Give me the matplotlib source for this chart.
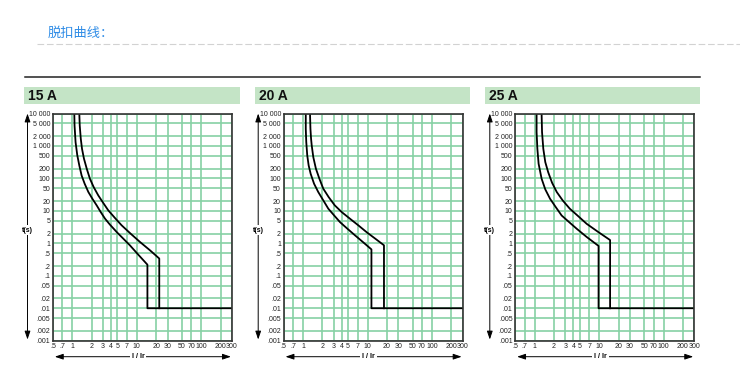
import matplotlib
matplotlib.use("Agg")
import matplotlib.pyplot as plt
from matplotlib.patches import Rectangle
from matplotlib.lines import Line2D

plt.rcParams['font.family'] = ['Liberation Sans', 'DejaVu Sans']

# ---------------- data ----------------
title_text = "脱扣曲线："
panel_labels = ["15 A", "20 A", "25 A"]

x_ticks = [0.5, 0.7, 1, 2, 3, 4, 5, 7, 10, 20, 30, 50, 70, 100, 200, 300]
x_tick_labels = [".5", ".7", "1", "2", "3", "4", "5", "7", "10", "20", "30",
                 "50", "70", "100", "200", "300"]
y_ticks = [10000, 5000, 2000, 1000, 500, 200, 100, 50, 20, 10, 5, 2, 1,
           0.5, 0.2, 0.1, 0.05, 0.02, 0.01, 0.005, 0.002, 0.001]
y_tick_labels = ["10 000", "5 000", "2 000", "1 000", "500", "200", "100", "50",
                 "20", "10", "5", "2", "1", ".5", ".2", ".1", ".05", ".02",
                 ".01", ".005", ".002", ".001"]

instant_t = 0.01
x_max = 300

# 15 A
i15_low = [1.07, 1.08, 1.12, 1.19, 1.28, 1.39, 1.55, 1.77, 2.04, 2.38, 2.75,
           3.21, 3.83, 4.9, 6.17, 7.8, 10.5, 14.6]
t15_low = [10000, 4240, 1310, 520, 251, 123, 68.6, 38, 23.7, 14.8, 9.2,
           5.75, 3.76, 2.2, 1.39, 0.87, 0.45, 0.22]
i15_high = [1.28, 1.30, 1.35, 1.41, 1.51, 1.67, 1.87, 2.14, 2.52, 3.02, 3.6,
            4.59, 5.8, 8.0, 11.2, 16.0, 22.3]
t15_high = [10000, 4240, 1660, 819, 410, 199, 98, 54, 30, 17.4, 10.4,
            6.0, 3.6, 1.99, 1.1, 0.61, 0.34]
# 20 A
i20_low = [1.10, 1.10, 1.12, 1.16, 1.22, 1.31, 1.48, 1.72, 2.06, 2.46, 3.02,
           3.74, 4.86, 6.4, 8.6, 11.5]
t20_low = [10000, 3380, 1310, 510, 251, 139, 68.6, 38, 21, 11.7, 7.3,
           4.5, 2.83, 1.76, 1.07, 0.65]
i20_high = [1.28, 1.30, 1.33, 1.36, 1.44, 1.58, 1.79, 2.06, 2.49, 3.1, 3.97,
            5.3, 7.2, 9.7, 13.2, 18.0]
t20_high = [10000, 3380, 1660, 1050, 453, 200, 98, 48, 26.7, 14.8, 9.2,
            5.8, 3.58, 2.2, 1.39, 0.87]
# 25 A
i25_low = [1.07, 1.07, 1.10, 1.15, 1.28, 1.46, 1.73, 2.12, 2.62, 3.41, 4.5,
           6.41, 9.8]
t25_low = [10000, 2670, 820, 283, 98, 45.9, 23.7, 13.1, 7.2, 4.53, 2.8,
           1.57, 0.83]
i25_high = [1.28, 1.30, 1.36, 1.46, 1.62, 1.86, 2.20, 2.72, 3.5, 4.76, 6.4,
            9.7, 14.8]
t25_high = [10000, 2670, 820, 318, 155, 73.6, 38, 21, 11.7, 6.8, 4.0,
            2.23, 1.26]

curves = [
    (i15_low, t15_low, i15_high, t15_high),
    (i20_low, t20_low, i20_high, t20_high),
    (i25_low, t25_low, i25_high, t25_high),
]

# ---------------- layout ----------------
W, H = 740, 369
fig = plt.figure(figsize=(W / 100, H / 100), dpi=100)


def fx(px):
    return px / W


def fy(py):
    return 1 - py / H


fig.text(fx(48), fy(33), title_text, color='#2f8ce6', fontsize=9.5,
         family=['Noto Sans CJK SC', 'DejaVu Sans'], va='center', ha='left')
fig.add_artist(Line2D([fx(37), fx(740)], [fy(44), fy(44)], color='#d2d2d2',
                      lw=0.8, ls=(0, (6, 2.5))))
fig.add_artist(Line2D([fx(25), fx(700)], [fy(77), fy(77)], color='#222222', lw=1.1))

bars = [(24, 240), (255, 470), (485, 700)]
ax_lefts = [53, 283.7, 515.3]
ax_top, ax_bot, ax_w = 113.5, 340.7, 179

for k in range(3):
    x0, x1 = bars[k]
    fig.add_artist(Rectangle((fx(x0), fy(104)), (x1 - x0) / W, 17 / H,
                             transform=fig.transFigure, facecolor='#c4e4c6',
                             edgecolor='none'))
    fig.text(fx(x0 + 4), fy(96), panel_labels[k], fontsize=10, fontweight='bold',
             va='center', ha='left', color='#111111')

    ax = fig.add_axes([fx(ax_lefts[k]), fy(ax_bot), ax_w / W, (ax_bot - ax_top) / H])
    ax.set_xscale('log')
    ax.set_yscale('log')
    ax.set_xlim(0.5, 300)
    ax.set_ylim(0.001, 10000)
    ax.minorticks_off()
    ax.set_xticks(x_ticks)
    ax.set_xticklabels(x_tick_labels)
    ax.set_yticks(y_ticks)
    ax.set_yticklabels(y_tick_labels)
    ax.minorticks_off()
    ax.tick_params(length=0, pad=2, labelsize=5, colors='#222222')
    ax.grid(True, which='major', color='#86d1a4', lw=1.2)
    ax.set_axisbelow(True)
    for s in ax.spines.values():
        s.set_color('#333333')
        s.set_linewidth(1.2)

    il, tl, ih, th = curves[k]
    ax.plot(list(il) + [il[-1], x_max], list(tl) + [instant_t, instant_t],
            color='black', lw=1.3)
    ax.plot(list(ih) + [ih[-1]], list(th) + [instant_t], color='black', lw=1.3)

    # axis arrows
    xa = -25.5 / ax_w
    ax.annotate('', xy=(xa, 1.0), xytext=(xa, 0.005), xycoords='axes fraction',
                textcoords='axes fraction', annotation_clip=False,
                arrowprops=dict(arrowstyle='<|-|>,head_length=0.5,head_width=0.17',
                                color='black', lw=0.7, shrinkA=0, shrinkB=0))
    ax.text(xa, 0.486, 't(s)', transform=ax.transAxes, ha='center', va='center',
            fontsize=5, fontweight='bold',
            bbox=dict(facecolor='white', edgecolor='none', pad=1.2))
    ya = -16 / (ax_bot - ax_top)
    ax.annotate('', xy=(0.994, ya), xytext=(0.01, ya), xycoords='axes fraction',
                textcoords='axes fraction', annotation_clip=False,
                arrowprops=dict(arrowstyle='<|-|>,head_length=0.5,head_width=0.17',
                                color='black', lw=0.7, shrinkA=0, shrinkB=0))
    ax.text(0.475, ya, 'I / Ir', transform=ax.transAxes, ha='center', va='center',
            fontsize=5, fontweight='bold',
            bbox=dict(facecolor='white', edgecolor='none', pad=1.5))

fig.savefig('out.png', dpi=100, facecolor='white')
